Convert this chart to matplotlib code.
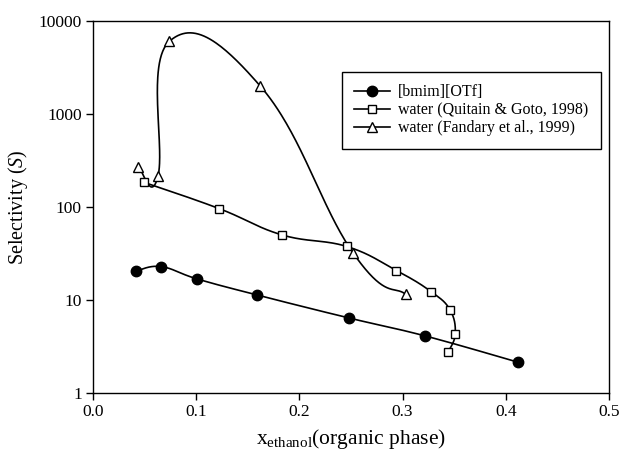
import numpy as np
import matplotlib
matplotlib.use("Agg")
import matplotlib.pyplot as plt
from matplotlib.ticker import FixedLocator, NullLocator, FuncFormatter

plt.rcParams['font.family'] = 'Liberation Serif'
plt.rcParams['mathtext.fontset'] = 'custom'
plt.rcParams['mathtext.rm'] = 'Liberation Serif'
plt.rcParams['mathtext.it'] = 'Liberation Serif:italic'

# values
bmim_x = [0.042, 0.066, 0.101, 0.159, 0.248, 0.322, 0.412]
bmim_s = [20.5, 22.8, 16.8, 11.3, 6.4, 4.1, 2.14]

quitain_x = [0.049, 0.122, 0.183, 0.246, 0.294, 0.3275, 0.346, 0.351, 0.344]
quitain_s = [184, 96, 50, 37.5, 20.7, 12.3, 7.8, 4.3, 2.75]

fandary_x = [0.044, 0.063, 0.074, 0.162, 0.252, 0.303]
fandary_s = [267, 215, 6000, 1990, 32, 11.5]

labels = ["[bmim][OTf]", "water (Quitain & Goto, 1998)", "water (Fandary et al., 1999)"]


def smooth(xs, ys, n=60, k=5.0):
    # spreadsheet-like smoothed line, worked out in screen units (x lin, y log)
    sx, sy = 1032.0, 93.0
    p = np.column_stack([np.array(xs) * sx, np.log10(ys) * sy])
    pts = np.vstack([p[0], p, p[-1]])
    t = np.linspace(0, 1, n)[:, None]
    out = []
    for i in range(1, len(pts) - 2):
        p0, p1, p2, p3 = pts[i - 1], pts[i], pts[i + 1], pts[i + 2]
        c1 = p1 + (p2 - p0) / k
        c2 = p2 - (p3 - p1) / k
        seg = (1 - t) ** 3 * p1 + 3 * (1 - t) ** 2 * t * c1 + 3 * (1 - t) * t ** 2 * c2 + t ** 3 * p2
        out.append(seg)
    out = np.vstack(out)
    return out[:, 0] / sx, 10 ** (out[:, 1] / sy)


fig = plt.figure(figsize=(6.26, 4.51), dpi=100)
ax = fig.add_axes([93 / 626, 58 / 451, 516 / 626, 372.3 / 451])

series = [
    (bmim_x, bmim_s, 5.0, dict(marker='o', ms=7.5, mfc='black', mec='black')),
    (quitain_x, quitain_s, 5.0, dict(marker='s', ms=5.5, mfc='white', mec='black', mew=1.0)),
    (fandary_x, fandary_s, 4.4, dict(marker='^', ms=6.5, mfc='white', mec='black', mew=1.0)),
]
handles = []
for (xs, ys, k, st), lab in zip(series, labels):
    cx, cy = smooth(xs, ys, k=k)
    ax.plot(cx, cy, color='black', lw=1.2, zorder=2)
    ax.plot(xs, ys, ls='none', zorder=3, **st)
    h, = ax.plot([], [], color='black', lw=1.2, **st)
    handles.append(h)

ax.set_yscale('log')
ax.set_xlim(0, 0.5)
ax.set_ylim(1, 10000)
ax.xaxis.set_major_locator(FixedLocator([0, 0.1, 0.2, 0.3, 0.4, 0.5]))
ax.xaxis.set_major_formatter(FuncFormatter(lambda v, p: "%.1f" % v))
ax.yaxis.set_major_locator(FixedLocator([1, 10, 100, 1000, 10000]))
ax.yaxis.set_major_formatter(FuncFormatter(lambda v, p: "%d" % v))
ax.yaxis.set_minor_locator(NullLocator())
ax.tick_params(axis='both', which='major', direction='out', length=5, width=1,
               labelsize=12.5, pad=3)
for sp in ax.spines.values():
    sp.set_linewidth(1.0)

ax.set_ylabel(r"Selectivity ($\mathit{S}$)", fontsize=14.5, labelpad=6)
ax.set_xlabel(r"x$_{\mathrm{ethanol}}$(organic phase)", fontsize=15.5, labelpad=5)

leg = ax.legend(handles, labels, loc='upper left', bbox_to_anchor=(0.482, 0.863),
                borderaxespad=0, fancybox=False, edgecolor='black', framealpha=1,
                fontsize=11.5, handlelength=2.2, handletextpad=0.5, labelspacing=0.12,
                borderpad=0.8)
leg.get_frame().set_linewidth(1.0)

fig.savefig("out.png", dpi=100)
